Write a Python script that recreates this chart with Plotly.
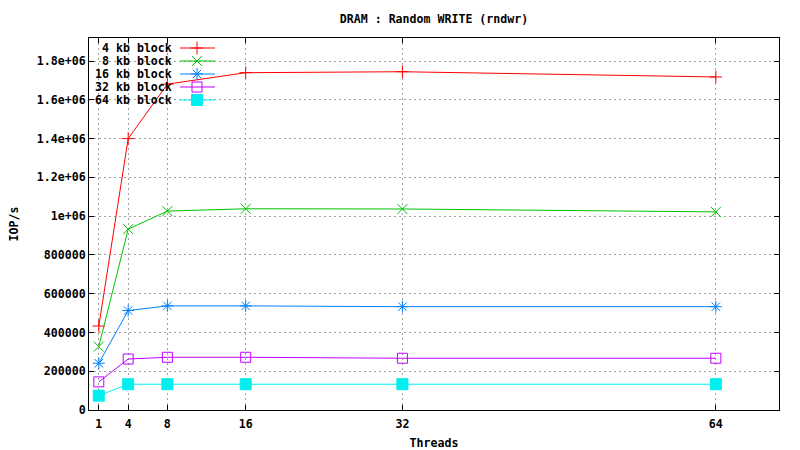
import plotly.graph_objects as go

threads = [1, 4, 8, 16, 32, 64]
series_names = ["4 kb block", "8 kb block", "16 kb block", "32 kb block", "64 kb block"]
iops_4kb = [433000, 1400000, 1681000, 1740000, 1745000, 1718000]
iops_8kb = [327000, 933000, 1026000, 1038000, 1037000, 1022000]
iops_16kb = [241000, 513000, 537000, 537000, 533000, 533000]
iops_32kb = [145000, 263000, 272000, 272000, 267000, 267000]
iops_64kb = [74000, 133000, 133000, 133000, 133000, 133000]
y_tickvals = [0, 200000, 400000, 600000, 800000, 1000000, 1200000, 1400000, 1600000, 1800000]
y_ticktext = ["0", "200000", "400000", "600000", "800000", "1e+06", "1.2e+06", "1.4e+06", "1.6e+06", "1.8e+06"]

all_series = [iops_4kb, iops_8kb, iops_16kb, iops_32kb, iops_64kb]
colors = ["#ff0000", "#00c000", "#0080ff", "#c000ff", "#00eeee"]
symbols = ["cross-thin-open", "x-thin-open", "asterisk-open", "square-open", "square"]
sizes = [9, 10, 10, 10, 11]

FONT = "DejaVu Sans Mono"
FS = 11.6
fig = go.Figure()

for name, vals, c, s, sz in zip(series_names, all_series, colors, symbols, sizes):
    fig.add_trace(go.Scatter(
        x=threads, y=vals, name=name, mode="lines+markers",
        line=dict(color=c, width=1),
        marker=dict(symbol=s, size=sz, color=c, line=dict(color=c, width=1)),
        showlegend=False,
    ))

# gnuplot-style key: text right-aligned, then line sample with marker
key_rows = [48, 61, 74, 87, 100]
for name, c, s, sz, yk in zip(series_names, colors, symbols, sizes, key_rows):
    fig.add_trace(go.Scatter(
        x=[180, 215], y=[yk, yk], mode="lines", line=dict(color=c, width=1),
        xaxis="x2", yaxis="y2", showlegend=False, hoverinfo="skip"))
    fig.add_trace(go.Scatter(
        x=[197], y=[yk], mode="markers",
        marker=dict(symbol=s, size=sz, color=c, line=dict(color=c, width=1)),
        xaxis="x2", yaxis="y2", showlegend=False, hoverinfo="skip"))
    fig.add_annotation(x=173, y=yk, xref="x2", yref="y2", text=name,
                       showarrow=False, xanchor="right", yanchor="middle",
                       height=12, borderpad=0,
                       font=dict(family=FONT, size=FS, color="black", weight="bold"))

axis_common = dict(
    showgrid=True, gridcolor="#a0a0a0", griddash="2px,3px", gridwidth=1,
    showline=True, linecolor="black", linewidth=1, mirror="allticks",
    ticks="inside", ticklen=5, tickcolor="black", zeroline=False,
    automargin=False,
    tickfont=dict(family=FONT, size=FS, color="black", weight="bold"),
)

fig.update_layout(
    width=800, height=450,
    margin=dict(l=89, r=21, t=38, b=40, autoexpand=False),
    paper_bgcolor="white", plot_bgcolor="white",
    font=dict(family=FONT, size=FS, color="black", weight="bold"),
    title=dict(text="DRAM : Random WRITE (rndwr)", x=434 / 800, xanchor="center",
               y=1 - 19 / 450, yanchor="middle", automargin=False,
               font=dict(family=FONT, size=FS, color="black", weight="bold")),
    xaxis=dict(range=[0, 70.45], tickvals=threads, ticktext=[str(t) for t in threads],
               ticklabelstandoff=3,
               title=dict(text="Threads", standoff=10,
                          font=dict(family=FONT, size=FS, color="black", weight="bold")),
               **axis_common),
    yaxis=dict(range=[0, 1.919e6], tickvals=y_tickvals, ticktext=y_ticktext,
               title=dict(text="IOP/s", standoff=15,
                          font=dict(family=FONT, size=FS, color="black", weight="bold")),
               **axis_common),
    xaxis2=dict(overlaying="x", range=[89, 779], visible=False, fixedrange=True),
    yaxis2=dict(overlaying="y", range=[410, 38], visible=False, fixedrange=True),
)

fig.write_html("out.html", config={"displayModeBar": False},
               post_script="document.body.style.margin='0';document.body.style.overflow='hidden';")
